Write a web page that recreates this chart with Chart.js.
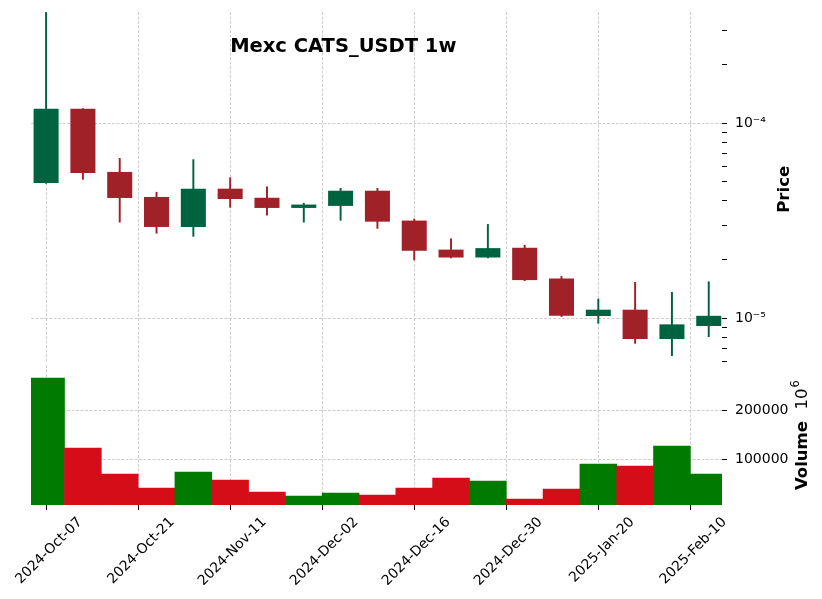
<!DOCTYPE html>
<html><head><meta charset="utf-8">
<script src="https://cdn.jsdelivr.net/npm/chart.js@4"></script>
<style>
html,body{margin:0;padding:0;background:#fff;}
#wrap{position:relative;width:822px;height:599px;overflow:hidden;background:#fff}
canvas{position:absolute;left:0}
</style>
</head><body>
<div id="wrap">
<canvas id="price" width="822" height="362" style="top:0;width:822px;height:362px"></canvas>
<canvas id="vol" width="822" height="237" style="top:362px;width:822px;height:237px"></canvas>
</div>
<script>
// ---- data ----
const chartTitle = 'Mexc CATS_USDT 1w';
const dates = ['2024-Oct-07','2024-Oct-14','2024-Oct-21','2024-Oct-28','2024-Nov-04','2024-Nov-11','2024-Nov-18','2024-Nov-25','2024-Dec-02','2024-Dec-09','2024-Dec-16','2024-Dec-23','2024-Dec-30','2025-Jan-06','2025-Jan-13','2025-Jan-20','2025-Jan-27','2025-Feb-03','2025-Feb-10'];
const opens  = [4.94e-5, 1.188e-4, 5.63e-5, 4.19e-5, 2.94e-5, 4.62e-5, 4.15e-5, 3.68e-5, 3.77e-5, 4.51e-5, 3.17e-5, 2.25e-5, 2.05e-5, 2.30e-5, 1.60e-5, 1.027e-5, 1.107e-5, 7.83e-6, 9.13e-6];
const highs  = [3.70e-4, 1.19e-4, 6.61e-5, 4.43e-5, 6.51e-5, 5.26e-5, 4.73e-5, 3.89e-5, 4.64e-5, 4.64e-5, 3.23e-5, 2.56e-5, 3.03e-5, 2.37e-5, 1.64e-5, 1.256e-5, 1.53e-5, 1.36e-5, 1.54e-5];
const lows   = [4.92e-5, 5.16e-5, 3.11e-5, 2.73e-5, 2.63e-5, 3.71e-5, 3.38e-5, 3.11e-5, 3.18e-5, 2.89e-5, 1.99e-5, 2.04e-5, 2.04e-5, 1.56e-5, 1.02e-5, 9.43e-6, 7.44e-6, 6.43e-6, 8.04e-6];
const closes = [1.188e-4, 5.56e-5, 4.14e-5, 2.94e-5, 4.62e-5, 4.09e-5, 3.68e-5, 3.83e-5, 4.51e-5, 3.13e-5, 2.22e-5, 2.05e-5, 2.29e-5, 1.57e-5, 1.03e-5, 1.107e-5, 7.83e-6, 9.31e-6, 1.03e-5];
const volumes = [265000, 122900, 70200, 41800, 74200, 58000, 33700, 25600, 31600, 27600, 41800, 62100, 56000, 19500, 39800, 90500, 86400, 127000, 70200];

const priceTicks = [6e-6,7e-6,8e-6,9e-6,1e-5,2e-5,3e-5,4e-5,5e-5,6e-5,7e-5,8e-5,9e-5,1e-4,2e-4,3e-4];
const priceTickLabels = ['','','','','10⁻⁵','','','','','','','','','10⁻⁴','',''];
const volTicks = [100000, 200000];
const volTickLabels = ['100000', '200000'];
const xTickPos = [0, 2.5, 5, 7.5, 10, 12.5, 15, 17.5];
const xTickLabels = ['2024-Oct-07','2024-Oct-21','2024-Nov-11','2024-Dec-02','2024-Dec-16','2024-Dec-30','2025-Jan-20','2025-Feb-10'];

// ---- styles ----
Chart.defaults.font.family = "'DejaVu Sans', sans-serif";
Chart.defaults.color = '#000';
Chart.defaults.animation = false;

const UP = '#006340', DOWN = '#a02128', VUP = '#007a00', VDOWN = '#d50d18';
const GRID = '#c2c2c2';
const DASH = [3, 1.5];
const X_MIN = -0.41, X_MAX = 18.36;
const isUp = opens.map((o, i) => closes[i] >= o);

function xScale(showLabels) {
  return {
    type: 'linear', min: X_MIN, max: X_MAX, offset: false,
    afterBuildTicks: s => { s.ticks = xTickPos.map(v => ({ value: v })); },
    ticks: showLabels ? {
      display: true, autoSkip: false, minRotation: 45, maxRotation: 45,
      font: { size: 13.9 }, padding: 4, labelOffset: 34,
      callback: (v, i) => xTickLabels[i]
    } : { display: false },
    grid: { color: GRID, lineWidth: 0.8, offset: false, drawTicks: showLabels, tickColor: '#000', tickLength: 5, tickWidth: 1, borderDash: DASH },
    border: { display: false, dash: DASH },
    afterFit: s => { s.height = showLabels ? 94 : 0; s.paddingLeft = 0; s.paddingRight = 0; }
  };
}

const priceText = {
  id: 'priceText',
  afterDraw(chart) {
    const ctx = chart.ctx;
    ctx.save();
    ctx.fillStyle = '#000';
    ctx.textBaseline = 'alphabetic';
    ctx.font = "bold 19.5px 'DejaVu Sans'";
    ctx.textAlign = 'center';
    ctx.fillText(chartTitle, 343.3, 52.3);
    ctx.translate(789.3, 189.3);
    ctx.rotate(-Math.PI / 2);
    ctx.font = "bold 16.5px 'DejaVu Sans'";
    ctx.fillText('Price', 0, 0);
    ctx.restore();
  }
};

const volText = {
  id: 'volText',
  afterDraw(chart) {
    const ctx = chart.ctx;
    ctx.save();
    ctx.fillStyle = '#000';
    ctx.textBaseline = 'alphabetic';
    ctx.textAlign = 'left';
    ctx.translate(806.5, 128);
    ctx.rotate(-Math.PI / 2);
    ctx.font = "bold 16.5px 'DejaVu Sans'";
    ctx.fillText('Volume', 0, 0);
    let w = ctx.measureText('Volume  ').width;
    ctx.font = "16.5px 'DejaVu Sans'";
    ctx.fillText('10', w, 0);
    w += ctx.measureText('10').width;
    ctx.font = "11.5px 'DejaVu Sans'";
    ctx.fillText('6', w + 1, -8);
    ctx.restore();
  }
};

function yFit(s) { s.width = 100; s.paddingTop = 0; s.paddingBottom = 0; }

new Chart(document.getElementById('price'), {
  type: 'bar',
  data: {
    datasets: [
      { label: 'wick', data: dates.map((d, i) => ({ x: i, y: [lows[i], highs[i]] })),
        backgroundColor: isUp.map(u => u ? UP : DOWN), barThickness: 1.3, grouped: false, order: 2, borderWidth: 0 },
      { label: 'body', data: dates.map((d, i) => ({ x: i, y: [opens[i], closes[i]] })),
        backgroundColor: isUp.map(u => u ? UP : DOWN), barPercentage: 0.68, categoryPercentage: 1, grouped: false, order: 1, borderWidth: 0 }
    ]
  },
  options: {
    responsive: false,
    layout: { padding: { left: 31, top: 12, right: 0, bottom: 0 } },
    plugins: { legend: { display: false }, tooltip: { enabled: false } },
    scales: {
      x: xScale(false),
      y: {
        type: 'logarithmic', position: 'right', min: 5.97e-6, max: 3.72e-4,
        afterBuildTicks: s => { s.ticks = priceTicks.map(v => ({ value: v })); },
        ticks: { autoSkip: false, padding: 8, font: { size: 14 }, callback: (v, i) => priceTickLabels[i] },
        grid: { color: c => priceTickLabels[c.index] ? GRID : 'rgba(0,0,0,0)', tickColor: '#000', tickLength: 5, tickWidth: 1, lineWidth: 0.8, borderDash: DASH },
        border: { display: false, dash: DASH },
        afterFit: yFit
      }
    }
  },
  plugins: [priceText]
});

new Chart(document.getElementById('vol'), {
  type: 'bar',
  data: {
    datasets: [
      { label: 'Volume', data: dates.map((d, i) => ({ x: i, y: volumes[i] })),
        backgroundColor: isUp.map(u => u ? VUP : VDOWN), barPercentage: 1, categoryPercentage: 1, borderWidth: 0 }
    ]
  },
  options: {
    responsive: false,
    layout: { padding: { left: 31, top: 3, right: 0, bottom: 0 } },
    plugins: { legend: { display: false }, tooltip: { enabled: false } },
    scales: {
      x: xScale(true),
      y: {
        type: 'linear', position: 'right', min: 7300, max: 291300,
        afterBuildTicks: s => { s.ticks = volTicks.map(v => ({ value: v })); },
        ticks: { autoSkip: false, padding: 8, font: { size: 14 }, callback: (v, i) => volTickLabels[i] },
        grid: { color: GRID, tickColor: '#000', tickLength: 5, tickWidth: 1, lineWidth: 0.8, borderDash: DASH },
        border: { display: false, dash: DASH },
        afterFit: yFit
      }
    }
  },
  plugins: [volText]
});
</script>
</body></html>
